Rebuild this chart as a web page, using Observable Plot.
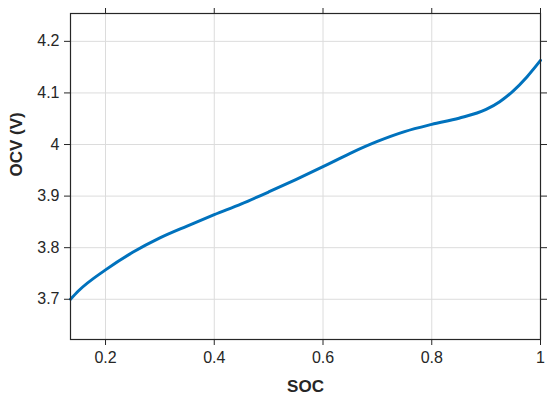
<!DOCTYPE html>
<html>
<head>
<meta charset="utf-8">
<script src="https://cdn.jsdelivr.net/npm/d3@7"></script>
<script src="https://cdn.jsdelivr.net/npm/@observablehq/plot@0.6"></script>
<style>
  html, body { margin: 0; padding: 0; background: #fff; }
  #chart svg { display: block; }
</style>
</head>
<body>
<div id="chart"></div>
<script>
const soc = [0.1356, 0.15, 0.2, 0.25, 0.3, 0.35, 0.4, 0.45, 0.5, 0.55, 0.6, 0.65, 0.7, 0.75, 0.8, 0.85, 0.9, 0.925, 0.95, 0.975, 1.0];
const ocv = [3.700, 3.716, 3.757, 3.791, 3.819, 3.842, 3.864, 3.885, 3.908, 3.932, 3.957, 3.983, 4.006, 4.025, 4.039, 4.051, 4.068, 4.083, 4.104, 4.131, 4.163];
const xTicks = [0.2, 0.4, 0.6, 0.8, 1];
const yTicks = [3.7, 3.8, 3.9, 4.0, 4.1, 4.2];
const xLabel = "SOC";
const yLabel = "OCV (V)";

const data = soc.map((s, i) => ({soc: s, ocv: ocv[i]}));
const fmt = d => String(+d.toFixed(2));
const blank = () => "";
const ink = "#262626";

const plot = Plot.plot({
  width: 553,
  height: 398,
  marginLeft: 70,
  marginRight: 13,
  marginTop: 13,
  marginBottom: 59,
  style: {fontFamily: "'Liberation Sans', Arial, sans-serif", fontSize: "16px", color: ink, background: "#fff"},
  x: {domain: [0.1356, 1]},
  y: {domain: [3.622, 4.254]},
  marks: [
    Plot.gridX(xTicks, {stroke: "#dcdcdc", strokeOpacity: 1, strokeWidth: 1}),
    Plot.gridY(yTicks, {stroke: "#dcdcdc", strokeOpacity: 1, strokeWidth: 1}),
    Plot.line(data, {x: "soc", y: "ocv", curve: "monotone-x", stroke: "#0072BD", strokeWidth: 3}),
    Plot.frame({stroke: ink, strokeWidth: 1.2}),
    Plot.axisX(xTicks, {anchor: "bottom", tickSize: 6, tickPadding: 6, tickFormat: fmt, label: null, stroke: ink, fill: ink, fontSize: 16}),
    Plot.axisX(xTicks, {anchor: "top", tickSize: 6, tickFormat: blank, label: null, stroke: ink}),
    Plot.axisY(yTicks, {anchor: "left", tickSize: 6, tickPadding: 5, tickFormat: fmt, label: null, stroke: ink, fill: ink, fontSize: 16}),
    Plot.axisY(yTicks, {anchor: "right", tickSize: 6, tickFormat: blank, label: null, stroke: ink}),
    Plot.text([xLabel], {frameAnchor: "bottom", dy: 52, text: d => d, fontWeight: "bold", fontSize: 17, fill: ink, lineAnchor: "bottom"}),
    Plot.text([yLabel], {frameAnchor: "left", dx: -54, rotate: -90, text: d => d, fontWeight: "bold", fontSize: 17, fill: ink, lineAnchor: "middle"})
  ]
});
document.getElementById("chart").appendChild(plot);
</script>
</body>
</html>
